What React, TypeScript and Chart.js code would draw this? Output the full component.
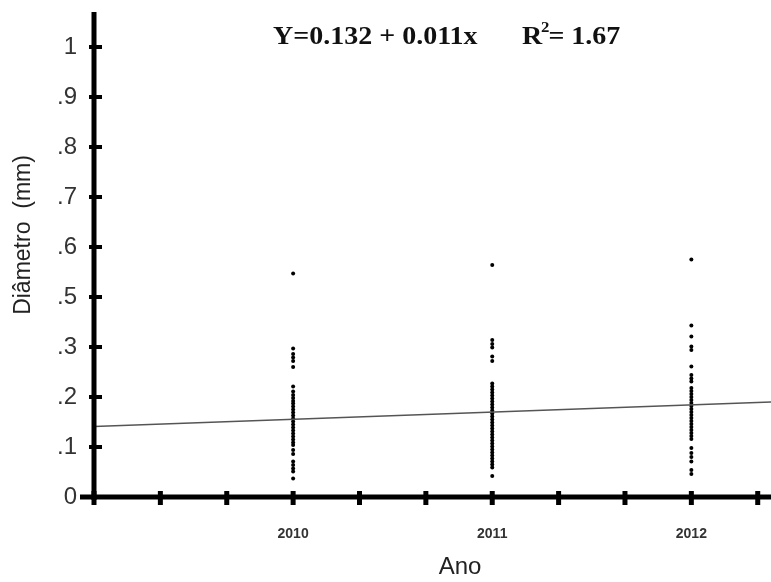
import React, { useEffect, useRef } from "react";
import { Chart, registerables } from "chart.js";

Chart.register(...registerables);

// ---- data ----
const years = [2010, 2011, 2012];
const diam2010 = [0.447, 0.297, 0.286, 0.279, 0.272, 0.26, 0.221, 0.211, 0.204, 0.198, 0.192, 0.187, 0.181, 0.175, 0.169, 0.163, 0.157, 0.151, 0.145, 0.139, 0.133, 0.127, 0.121, 0.115, 0.109, 0.104, 0.094, 0.086, 0.071, 0.064, 0.057, 0.051, 0.037];
const diam2011 = [0.464, 0.314, 0.306, 0.299, 0.281, 0.272, 0.227, 0.221, 0.215, 0.209, 0.203, 0.197, 0.191, 0.185, 0.179, 0.173, 0.167, 0.161, 0.155, 0.149, 0.143, 0.137, 0.131, 0.125, 0.119, 0.113, 0.107, 0.101, 0.095, 0.089, 0.083, 0.077, 0.071, 0.065, 0.059, 0.042];
const diam2012 = [0.475, 0.343, 0.321, 0.301, 0.294, 0.261, 0.244, 0.237, 0.231, 0.218, 0.212, 0.206, 0.2, 0.194, 0.188, 0.182, 0.176, 0.17, 0.164, 0.158, 0.152, 0.146, 0.14, 0.134, 0.128, 0.122, 0.116, 0.098, 0.088, 0.08, 0.071, 0.054, 0.046];
const fitX = [2009, 2012.4];
const fitY = [0.141, 0.19];
const yTickValues = [0, 0.1, 0.2, 0.3, 0.4, 0.5, 0.6, 0.7, 0.8, 0.9];
const yTickLabels = ["0", ".1", ".2", ".3", ".5", ".6", ".7", ".8", ".9", "1"];
const xTickLabels = ["2010", "2011", "2012"];
const xMin = 2009;
const xMax = 2012.4;
const xMinorPerYear = 3;
const yMax = 0.97;
const equationText = "Y=0.132 + 0.011x";
const r2Text = "= 1.67";
const yTitle = "Diâmetro  (mm)";
const xTitle = "Ano";

export default function App() {
  const ref = useRef<HTMLCanvasElement | null>(null);
  useEffect(() => {
    document.body.style.margin = "0";
    const canvas = ref.current;
    if (!canvas) return;

    const points = [
      ...diam2010.map((y) => ({ x: years[0], y })),
      ...diam2011.map((y) => ({ x: years[1], y })),
      ...diam2012.map((y) => ({ x: years[2], y })),
    ];

    const drawPlugin = {
      id: "customAxes",
      afterDraw(chart: any) {
        const ctx = chart.ctx;
        const xs = chart.scales.x;
        const ys = chart.scales.y;
        const area = chart.chartArea;
        const x0 = xs.getPixelForValue(xMin);
        const y0 = ys.getPixelForValue(0);
        ctx.save();
        ctx.strokeStyle = "#000";
        ctx.fillStyle = "#000";
        ctx.lineWidth = 5;
        ctx.beginPath();
        ctx.moveTo(x0, area.top);
        ctx.lineTo(x0, y0 + 3);
        ctx.stroke();
        ctx.beginPath();
        ctx.moveTo(x0 - 14, y0);
        ctx.lineTo(area.right, y0);
        ctx.stroke();
        ctx.lineWidth = 4;
        yTickValues.forEach((v) => {
          const py = ys.getPixelForValue(v);
          ctx.beginPath();
          ctx.moveTo(x0 - 5, py);
          ctx.lineTo(x0 + 8, py);
          ctx.stroke();
        });
        ctx.lineWidth = 5;
        xs.ticks.forEach((t: any) => {
          const px = xs.getPixelForValue(t.value);
          ctx.beginPath();
          ctx.moveTo(px, y0 - 6);
          ctx.lineTo(px, y0 + 8);
          ctx.stroke();
        });
        // titles
        ctx.fillStyle = "#222";
        ctx.font = '24px "Liberation Sans", Arial, sans-serif';
        ctx.textAlign = "center";
        ctx.textBaseline = "middle";
        ctx.fillText(xTitle, 460, 567);
        ctx.save();
        ctx.translate(24, 235);
        ctx.rotate(-Math.PI / 2);
        ctx.font = '23px "Liberation Sans", Arial, sans-serif';
        ctx.fillText(yTitle, 0, 0);
        ctx.restore();
        // equation (horizontally widened serif)
        ctx.fillStyle = "#111";
        ctx.textBaseline = "alphabetic";
        ctx.textAlign = "left";
        const big = 'bold 25px "Liberation Serif", "DejaVu Serif", serif';
        const small = 'bold 15px "Liberation Serif", "DejaVu Serif", serif';
        const sx = 1.12;
        ctx.save();
        ctx.translate(273, 44);
        ctx.scale(sx, 1);
        ctx.font = big;
        ctx.fillText(equationText, 0, 0);
        ctx.restore();
        ctx.save();
        ctx.translate(522, 44);
        ctx.scale(sx, 1);
        ctx.font = big;
        ctx.fillText("R", 0, 0);
        let cx = ctx.measureText("R").width - 1;
        ctx.font = small;
        ctx.fillText("2", cx, -12);
        cx += ctx.measureText("2").width - 1;
        ctx.font = big;
        ctx.fillText(r2Text, cx, 0);
        ctx.restore();
        ctx.restore();
      },
    };

    const chart = new Chart(canvas, {
      type: "scatter",
      data: {
        datasets: [
          {
            type: "line",
            label: "fit",
            data: fitX.map((x, i) => ({ x, y: fitY[i] })),
            borderColor: "#555",
            borderWidth: 1.5,
            pointRadius: 0,
            fill: false,
          } as any,
          {
            label: "Diâmetro",
            data: points,
            backgroundColor: "#000",
            borderColor: "#000",
            pointRadius: 2,
            borderWidth: 0,
          },
        ],
      },
      options: {
        animation: false,
        responsive: false,
        events: [],
        layout: { autoPadding: false, padding: { top: 12, right: 0, left: 0, bottom: 0 } },
        plugins: { legend: { display: false }, tooltip: { enabled: false } },
        scales: {
          x: {
            type: "linear",
            min: xMin,
            max: xMax,
            grid: { display: false, drawTicks: false },
            border: { display: false },
            afterFit: (s: any) => {
              s.height = 85;
              s.paddingLeft = 0;
              s.paddingRight = 0;
            },
            afterBuildTicks: (s: any) => {
              const t: any[] = [];
              const n = Math.floor((xMax - xMin) * xMinorPerYear + 1e-6);
              for (let k = 0; k <= n; k++) t.push({ value: xMin + k / xMinorPerYear });
              s.ticks = t;
            },
            ticks: {
              autoSkip: false,
              maxRotation: 0,
              padding: 29,
              color: "#333",
              font: { family: '"Liberation Sans", Arial, sans-serif', size: 14, weight: "bold" },
              callback: (value: any) => {
                const v = Number(value);
                const idx = years.findIndex((y) => Math.abs(y - v) < 1e-6);
                return idx >= 0 ? xTickLabels[idx] : "";
              },
            },
          },
          y: {
            type: "linear",
            min: 0,
            max: yMax,
            grid: { display: false, drawTicks: false },
            border: { display: false },
            afterFit: (s: any) => {
              s.width = 94;
              s.paddingTop = 0;
              s.paddingBottom = 0;
            },
            afterBuildTicks: (s: any) => {
              s.ticks = yTickValues.map((v) => ({ value: v }));
            },
            ticks: {
              autoSkip: false,
              padding: 17,
              color: "#333",
              font: { family: '"Liberation Sans", Arial, sans-serif', size: 24 },
              callback: (_v: any, i: number) => yTickLabels[i],
            },
          },
        },
      },
      plugins: [drawPlugin],
    });
    return () => chart.destroy();
  }, []);
  return (
    <div style={{ width: 771, height: 582, background: "#fff" }}>
      <canvas ref={ref} width={771} height={582} style={{ display: "block" }} />
    </div>
  );
}
